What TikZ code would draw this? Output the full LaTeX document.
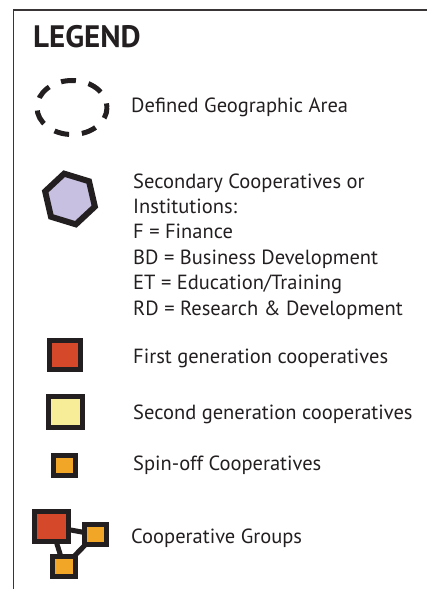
\documentclass[tikz,border=0pt]{standalone}
\usepackage{fontspec}
\setmainfont{PT Sans}
\usetikzlibrary{shapes.geometric}

\definecolor{inkblack}{RGB}{35,31,32}
\definecolor{firstred}{RGB}{213,72,42}
\definecolor{secondyellow}{RGB}{247,237,152}
\definecolor{spinorange}{RGB}{242,166,40}
\definecolor{instlilac}{RGB}{200,192,225}

\begin{document}
\begin{tikzpicture}[x=1pt, y=-1pt,
    legtext/.style={anchor=base west, inner sep=0pt, text=inkblack,
      font=\fontsize{20.5}{25.4}\selectfont},
    coopbox/.style={draw=inkblack, line width=5pt, inner sep=0pt},
    grouplink/.style={draw=inkblack, line width=5pt}]
    \useasboundingbox (0,0) rectangle (427,589);
    \draw[inkblack!90, line width=1.3pt] (427,10) -- (13.5,10) -- (13.5,589);
    \node[legtext, font=\fontsize{31}{36}\selectfont\bfseries] (title) at (33,47) {LEGEND};

    \draw[inkblack, line width=5pt, dash pattern=on 15pt off 12.9pt, dash phase=4pt]
        (72,107.5) ellipse [x radius=35, y radius=27];
    \node[legtext] (area) at (131,112) {Defined Geographic Area};

    \node[regular polygon, regular polygon sides=6, minimum size=52pt, inner sep=0pt,
        rotate=-17, draw=inkblack, line width=6pt, fill=instlilac] (inst) at (70,199) {};
    \node[legtext, align=left] (insttext) at (133,315) {Secondary Cooperatives or\\
        Institutions:\\
        F = Finance\\
        BD = Business Development\\
        ET = Education/Training\\
        RD = Research \& Development};

    \node[coopbox, fill=firstred, minimum width=31pt, minimum height=29pt] (first) at (65,355) {};
    \node[legtext] (firsttext) at (133,363) {First generation cooperatives};
    \node[coopbox, fill=secondyellow, minimum width=34pt, minimum height=31pt] (second) at (65.5,412) {};
    \node[legtext] (secondtext) at (133,419) {Second generation cooperatives};
    \node[coopbox, fill=spinorange, minimum width=22pt, minimum height=20pt] (spin) at (64.5,465.5) {};
    \node[legtext] (spintext) at (133,470) {Spin-off Cooperatives};

    \draw[grouplink] (51.5,526.5) -- (95.5,534.5) -- (64,566.5) -- cycle;
    \node[coopbox, fill=firstred, minimum width=34pt, minimum height=30pt] (gbig) at (51.5,526.5) {};
    \node[coopbox, fill=spinorange, minimum width=22pt, minimum height=20pt] (gright) at (95.5,534.5) {};
    \node[coopbox, fill=spinorange, minimum width=23pt, minimum height=20pt] (gdown) at (64,566.5) {};
    \node[legtext] (grouptext) at (131,543) {Cooperative Groups};
\end{tikzpicture}
\end{document}
